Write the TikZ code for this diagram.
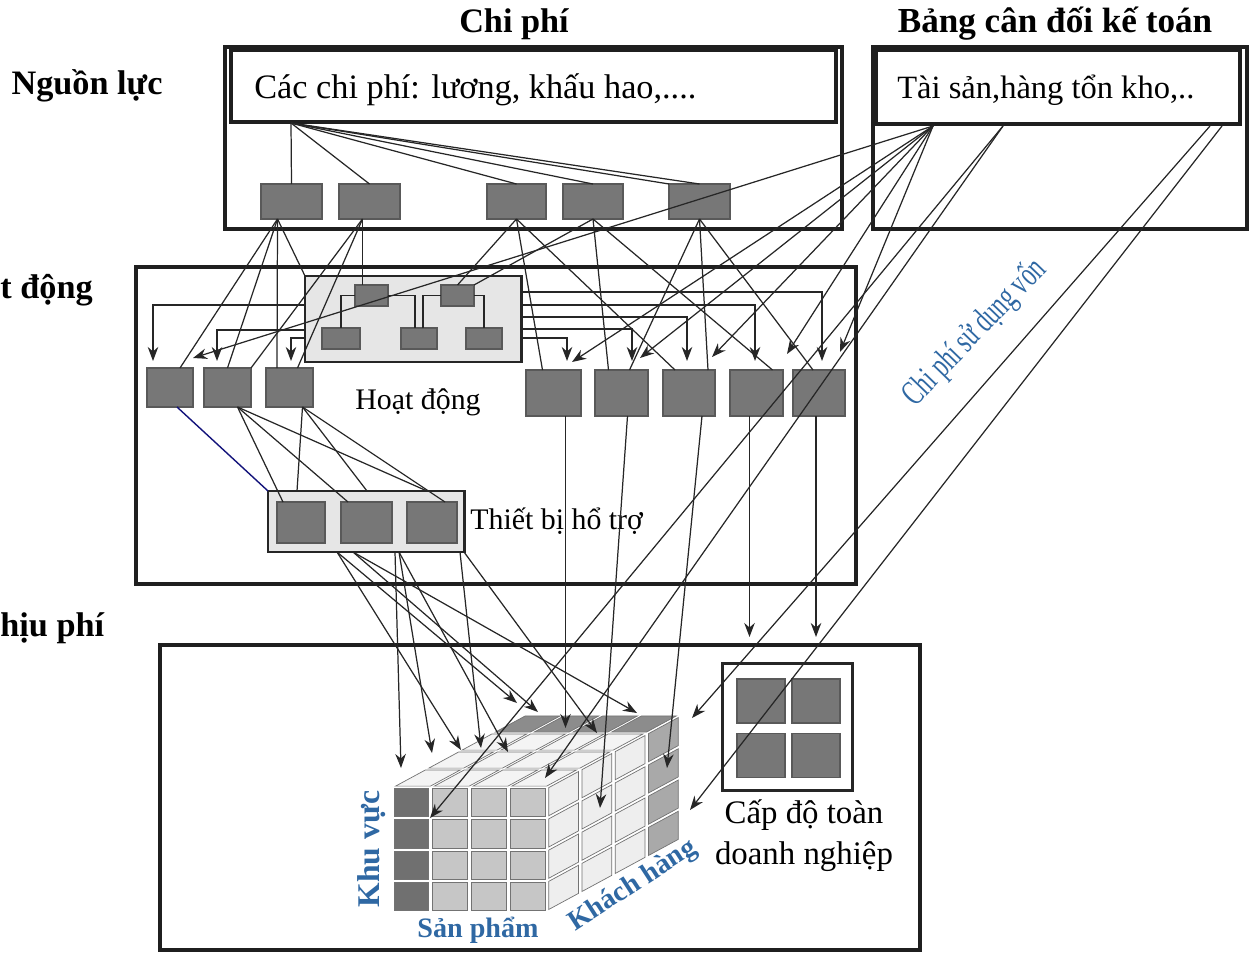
\documentclass[tikz,border=0pt]{standalone}
\usepackage{fontspec}
\setmainfont{Liberation Serif}
\usetikzlibrary{arrows.meta,calc}
\definecolor{dgray}{HTML}{777777}
\definecolor{lbox}{HTML}{E6E6E6}
\definecolor{lblue}{HTML}{2F68A3}
\definecolor{navyln}{HTML}{12127A}
\definecolor{cubeA}{HTML}{707070}
\definecolor{cubeB}{HTML}{C6C6C6}
\definecolor{cubeC}{HTML}{EEEEEE}
\definecolor{cubeD}{HTML}{A9A9A9}
\definecolor{cubeE}{HTML}{8C8C8C}
\definecolor{cubeF}{HTML}{F4F4F4}
\begin{document}
\begin{tikzpicture}[x=0.02cm,y=-0.02cm,
  sz/.style 2 args={minimum width=#1*0.02cm,minimum height=#2*0.02cm,inner sep=0pt,outer sep=0pt},
  bigbox/.style={draw=black!88,line width=2.6pt},
  graybox/.style={draw=black!65,fill=dgray,line width=0.6pt},
  panel/.style={draw=black!85,fill=lbox,line width=1.7pt},
  ln/.style={draw=black!85,line width=0.7pt},
  arr/.style={ln,-{Stealth[length=8pt,width=6pt,inset=2.6pt]}},
  txt/.style={inner sep=0pt,font=\fontsize{17}{20}\selectfont},
  ttl/.style={inner sep=0pt,font=\bfseries\fontsize{19.5}{22}\selectfont},
  blu/.style={inner sep=0pt,text=lblue,font=\bfseries\fontsize{16}{19}\selectfont},
  cellln/.style={draw=black!55,line width=0.4pt}]
\useasboundingbox (0,0) rectangle (1257,953);

% ---------- titles ----------
\node[ttl] (tCP) at (514,24) {Chi phí};
\node[ttl,font=\bfseries\fontsize{20}{22}\selectfont] (tBS) at (1055,24) {Bảng cân đối kế toán};
\node[ttl] (tNL) at (87,86) {Nguồn lực};
\node[ttl,anchor=west] (tHD) at (0,290) {t động};
\node[ttl,anchor=west] (tCH) at (0,628) {hịu phí};

% ---------- top boxes ----------
\node[bigbox,sz={617}{182}] (cpOut) at (533.5,138) {};
\node[bigbox,sz={605}{72}] (cpIn) at (533.5,86) {};
\node[anchor=west,inner sep=0pt,font=\fontsize{19.5}{22}\selectfont] (cpTxt) at (254,90) {Các chi phí: lương, khấu hao,....};
\node[bigbox,sz={374}{182}] (tsOut) at (1060,138) {};
\node[bigbox,sz={364}{74}] (tsIn) at (1058,87) {};
\node[anchor=west,inner sep=0pt,font=\fontsize{18.5}{21}\selectfont] (tsTxt) at (897,90) {Tài sản,hàng tổn kho,..};

\node[graybox,sz={61}{35}] (R1) at (291.5,201.5) {};
\node[graybox,sz={61}{35}] (R2) at (369.5,201.5) {};
\node[graybox,sz={59}{35}] (R3) at (516.5,201.5) {};
\node[graybox,sz={60}{35}] (R4) at (593,201.5) {};
\node[graybox,sz={61}{35}] (R5) at (699.5,201.5) {};

% ---------- activity level ----------
\node[bigbox,sz={720}{317}] (hdOut) at (496,425.5) {};
\node[panel,sz={216}{86}] (org) at (413,319) {};
\node[graybox,sz={33}{21}] (o1) at (371.5,295.5) {};
\node[graybox,sz={33}{21}] (o2) at (457.5,295.5) {};
\node[graybox,sz={38}{21}] (o3) at (341,338.5) {};
\node[graybox,sz={36}{21}] (o4) at (419,338.5) {};
\node[graybox,sz={36}{21}] (o5) at (484,338.5) {};
\draw[ln] (o3.north) |- (o1.west);
\draw[ln] ([xshift=-0.08cm]o4.north) |- (o1.east);
\draw[ln] ([xshift=0.08cm]o4.north) |- (o2.west);
\draw[ln] (o5.north) |- (o2.east);

\node[graybox,sz={46}{39}] (A1) at (170,387.5) {};
\node[graybox,sz={47}{39}] (A2) at (227.5,387.5) {};
\node[graybox,sz={47}{39}] (A3) at (289.5,387.5) {};
\node[graybox,sz={55}{46}] (B1) at (553.5,393) {};
\node[graybox,sz={53}{46}] (B2) at (621.5,393) {};
\node[graybox,sz={52}{46}] (B3) at (689,393) {};
\node[graybox,sz={53}{46}] (B4) at (756.5,393) {};
\node[graybox,sz={52}{46}] (B5) at (819,393) {};
\node[txt] (hdTxt) at (418,402) {Hoạt động};

\node[panel,sz={196}{61}] (tb) at (366,521.5) {};
\node[graybox,sz={48}{41}] (t1) at (301,522.5) {};
\node[graybox,sz={51}{41}] (t2) at (366.5,522.5) {};
\node[graybox,sz={50}{41}] (t3) at (432,522.5) {};
\node[txt,anchor=west] (tbTxt) at (470,521) {Thiết bị hổ trợ};

% ---------- cost objects ----------
\node[bigbox,sz={760}{305}] (bb) at (540,797.5) {};
\node[draw=black!85,line width=1.7pt,sz={130}{127}] (en) at (787,726.5) {};
\node[graybox,sz={48}{44}] (e1) at (761,701) {};
\node[graybox,sz={48}{44}] (e2) at (816,701) {};
\node[graybox,sz={48}{44}] (e3) at (761,755.5) {};
\node[graybox,sz={48}{44}] (e4) at (816,755.5) {};
\node[inner sep=0pt,font=\fontsize{18.7}{21}\selectfont] (enT1) at (804,815) {Cấp độ toàn};
\node[inner sep=0pt,font=\fontsize{18.7}{21}\selectfont] (enT2) at (804,857) {doanh nghiệp};

% cube: front face
\begin{scope}[shift={(392,787)},x={(0.775cm,0cm)},y={(0cm,-0.625cm)}]
  \foreach \i in {0,...,3} \foreach \j in {0,...,3} {
    \ifnum\i=0 \def\cc{cubeA}\else\def\cc{cubeB}\fi
    \filldraw[cellln,fill=\cc] (\i+0.05,\j+0.05) -- (\i+0.95,\j+0.05) -- (\i+0.95,\j+0.95) -- (\i+0.05,\j+0.95) -- cycle;
  }
\end{scope}
% right face
\begin{scope}[shift={(547,787)},x={(0.665cm,0.36cm)},y={(0cm,-0.625cm)}]
  \foreach \i in {0,...,3} \foreach \j in {0,...,3} {
    \ifnum\i=3 \def\cc{cubeD}\else\def\cc{cubeC}\fi
    \filldraw[cellln,fill=\cc] (\i+0.05,\j+0.05) -- (\i+0.95,\j+0.05) -- (\i+0.95,\j+0.95) -- (\i+0.05,\j+0.95) -- cycle;
  }
\end{scope}
% top face
\begin{scope}[shift={(392,787)},x={(0.775cm,0cm)},y={(0.665cm,0.36cm)}]
  \foreach \i in {0,...,3} \foreach \j in {0,...,3} {
    \ifnum\j=3 \def\cc{cubeE}\else\def\cc{cubeF}\fi
    \filldraw[cellln,fill=\cc] (\i+0.05,\j+0.05) -- (\i+0.95,\j+0.05) -- (\i+0.95,\j+0.95) -- (\i+0.05,\j+0.95) -- cycle;
  }
\end{scope}
\node[blu,rotate=90,font=\bfseries\fontsize{18}{20}\selectfont] (kv) at (372,849) {Khu vực};
\node[blu] (sp) at (478,930) {Sản phẩm};
\node[blu,rotate=33] (kh) at (633,886) {Khách hàng};
\node[inner sep=0pt,rotate=46,text=lblue,font=\fontsize{20}{23}\selectfont] (cpv) at (975,333) {\scalebox{0.66}[1]{Chi phí sử dụng vốn}};

% ---------- connectors: costs -> resources ----------
\coordinate (cpO) at (291,123);
\draw[ln] (cpO) -- (R1.north);
\draw[ln] (cpO) -- (R2.north);
\draw[ln] (cpO) -- (R3.north);
\draw[ln] (cpO) -- (R4.north);
\draw[ln] (cpO) -- (R5.north west);
\draw[ln] (cpO) -- (R5.north);

% ---------- balance sheet lines ----------
\coordinate (tsO) at (933,126);
\coordinate (ts2) at (1003,126);
\coordinate (ts3) at (1210,126);
\coordinate (ts4) at (1222,126);
\coordinate (ta2) at (193,358);
\coordinate (tb1) at (572,362);
\coordinate (tb2) at (640,358);
\coordinate (tb3) at (712,357);
\coordinate (tb4) at (787,354);
\coordinate (tb5) at (840,352);
\coordinate (tk1) at (430,818);
\coordinate (tk2) at (545,778);
\coordinate (tk3) at (692,718);
\coordinate (tk4) at (690,810);
\draw[arr] (tsO) -- (ta2);
\draw[arr] (tsO) -- (tb1);
\draw[arr] (tsO) -- (tb2);
\draw[arr] (tsO) -- (tb3);
\draw[arr] (tsO) -- (tb4);
\draw[arr] (tsO) -- (tb5);
\draw[arr] (ts2) -- (tk1);
\draw[arr] (ts2) -- (tk2);
\draw[arr] (ts3) -- (tk3);
\draw[arr] (ts4) -- (tk4);

% ---------- resources -> activities ----------
\coordinate (r1o) at ($(R1.south)+(-14,0)$);
\coordinate (r2o) at ($(R2.south)+(-7,0)$);
\draw[ln] (r1o) -- ($(A1.north)+(10,0)$);
\draw[ln] (r1o) -- (A2.north);
\draw[ln] (r1o) -- ($(A3.north west)+(11,0)$);
\draw[ln] (r1o) -- (org.north west);
\draw[ln] (r2o) -- (A2.north east);
\draw[ln] (r2o) -- ($(A3.north)+(8,0)$);
\draw[ln] (r2o) -- (r2o |- o1.north);
\draw[ln] (R3.south) -- ($(B1.north)+(-11,0)$);
\draw[ln] (R3.south) -- ($(B3.north west)+(12,0)$);
\draw[ln] (R3.south) -- (o2.north);
\draw[ln] (R4.south) -- ($(B2.north)+(-13,0)$);
\draw[ln] (R4.south) -- ($(B4.north)+(16,0)$);
\draw[ln] (R4.south) -- (o2.north east);
\draw[ln] (R5.south) -- ($(B2.north)+(8,0)$);
\draw[ln] (R5.south) -- ($(B3.north)+(19,0)$);
\draw[ln] (R5.south) -- ($(B5.north)+(-6,0)$);

% ---------- org chart -> activities ----------
\coordinate (la1) at (153,361);
\coordinate (la2) at (217,361);
\coordinate (la3) at (291,361);
\coordinate (lb1) at (567,361);
\coordinate (lb2) at (632,361);
\coordinate (lb3) at (687,361);
\coordinate (lb4) at (755,361);
\coordinate (lb5) at (822,361);
\draw[arr] ($(org.west)+(0,-14)$) -| (la1);
\draw[arr] ($(org.west)+(0,11)$) -| (la2);
\draw[arr] ($(org.west)+(0,19)$) -| (la3);
\draw[arr] ($(org.east)+(0,-27)$) -| (lb5);
\draw[arr] ($(org.east)+(0,-14)$) -| (lb4);
\draw[arr] ($(org.east)+(0,-2)$) -| (lb3);
\draw[arr] ($(org.east)+(0,10)$) -| (lb2);
\draw[arr] ($(org.east)+(0,19)$) -| (lb1);

% ---------- activities -> support ----------
\draw[line width=0.8pt,navyln] ($(A1.south)+(7,0)$) -- (tb.north west);
\coordinate (a2o) at ($(A2.south)+(10,0)$);
\coordinate (a3o) at ($(A3.south)+(13,0)$);
\draw[ln] (a2o) -- ($(t1.north west)+(6,0)$);
\draw[ln] (a2o) -- ($(t2.north west)+(7,0)$);
\draw[ln] (a2o) -- ($(tb.north east)+(-37,0)$);
\draw[ln] (a3o) -- ($(tb.north)+(-69,0)$);
\draw[ln] (a3o) -- ($(tb.north)+(1,0)$);
\draw[ln] (a3o) -- ($(t3.north east)+(-12,0)$);

% ---------- activities -> cost objects ----------
\coordinate (cb1) at (565.5,728);
\coordinate (cb2) at (600,808);
\coordinate (cb3) at (667,768);
\coordinate (cb4) at (749.5,637);
\coordinate (cb5) at (816,637);
\draw[arr] ($(B1.south)+(12,0)$) -- (cb1);
\draw[arr] ($(B2.south)+(6,0)$) -- (cb2);
\draw[arr] ($(B3.south)+(13,0)$) -- (cb3);
\draw[arr] ($(B4.south)+(-7,0)$) -- (cb4);
\draw[arr] ($(B5.south)+(-3,0)$) -- (cb5);

% ---------- support -> cube ----------
\coordinate (e1a) at ($(tb.south west)+(69,0)$);
\coordinate (e1b) at ($(tb.south west)+(85,0)$);
\coordinate (e2a) at ($(tb.south west)+(127,0)$);
\coordinate (e2b) at ($(tb.south west)+(131,0)$);
\coordinate (e3a) at ($(tb.south west)+(192,0)$);
\coordinate (e3b) at ($(tb.south west)+(196,0)$);
\coordinate (k01) at (401,768);
\coordinate (k02) at (432,753);
\coordinate (k03) at (461,750);
\coordinate (k04) at (481,748);
\coordinate (k05) at (508,752);
\coordinate (k06) at (517,703);
\coordinate (k07) at (538,712);
\coordinate (k08) at (597,733);
\coordinate (k09) at (637,713);
\draw[arr] (e2a) -- (k01);
\draw[arr] (e2b) -- (k02);
\draw[arr] (e1a) -- (k03);
\draw[arr] (e3a) -- (k04);
\draw[arr] (e2b) -- (k05);
\draw[arr] (e1a) -- (k06);
\draw[arr] (e1b) -- (k07);
\draw[arr] (e3b) -- (k08);
\draw[arr] (e1b) -- (k09);
\end{tikzpicture}
\end{document}
